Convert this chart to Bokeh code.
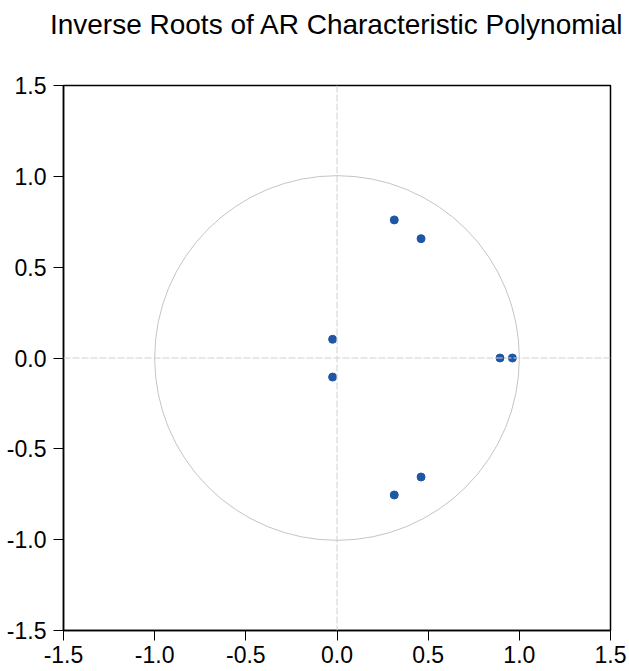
from bokeh.plotting import figure
from bokeh.embed import file_html
from bokeh.resources import INLINE
from bokeh.models import FixedTicker, Span, Title

# Inverse roots (real, imaginary)
root_re = [0.314, 0.314, 0.461, 0.461, -0.024, -0.024, 0.894, 0.962]
root_im = [0.760, -0.754, 0.657, -0.655, 0.103, -0.105, 0.0, 0.0]
ticks = [-1.5, -1.0, -0.5, 0.0, 0.5, 1.0, 1.5]
tick_labels = ["-1.5", "-1.0", "-0.5", "0.0", "0.5", "1.0", "1.5"]
title_text = "Inverse Roots of AR Characteristic Polynomial"

p = figure(width=629, height=671, output_backend="svg", toolbar_location=None,
           x_range=(-1.5, 1.5), y_range=(-1.5, 1.5), title=None,
           min_border_left=63, min_border_right=19, min_border_top=85, min_border_bottom=41)

# spacer between title and plot frame, then the title itself (outermost)
p.add_layout(Title(text=" ", text_font_size="35px", standoff=0), "above")
p.add_layout(Title(text=title_text, align="center", text_font="Liberation Sans",
                   text_font_size="28px", text_font_style="normal",
                   text_color="#000000"), "above")

p.grid.visible = False
p.outline_line_color = "#000000"
p.outline_line_width = 1.5
p.background_fill_color = "white"
p.border_fill_color = "white"

for ax in (p.xaxis[0], p.yaxis[0]):
    ax.ticker = FixedTicker(ticks=ticks)
    ax.major_label_overrides = {t: s for t, s in zip(ticks, tick_labels)}
    ax.minor_tick_line_color = None
    ax.major_tick_out = 10
    ax.major_tick_in = 0
    ax.major_tick_line_color = "#000000"
    ax.axis_line_color = "#000000"
    ax.axis_line_width = 1.5
    ax.major_label_text_font = "Liberation Sans"
    ax.major_label_text_font_size = "23px"
    ax.major_label_text_color = "#000000"
    ax.major_label_standoff = 5
p.yaxis[0].major_label_standoff = 7

# unit circle
p.circle(x=[0], y=[0], radius=1.0, fill_color=None, line_color="#c4c4c4", line_width=1)

# zero lines
p.add_layout(Span(location=0, dimension="width", line_color="#d0d0d0", line_dash="7 2", line_width=1))
p.add_layout(Span(location=0, dimension="height", line_color="#d0d0d0", line_dash="7 2", line_width=1))

p.scatter(x=root_re, y=root_im, size=8, fill_color="#1f56a5", line_color="#1f56a5")

open("out.html", "w").write(file_html(p, INLINE))
